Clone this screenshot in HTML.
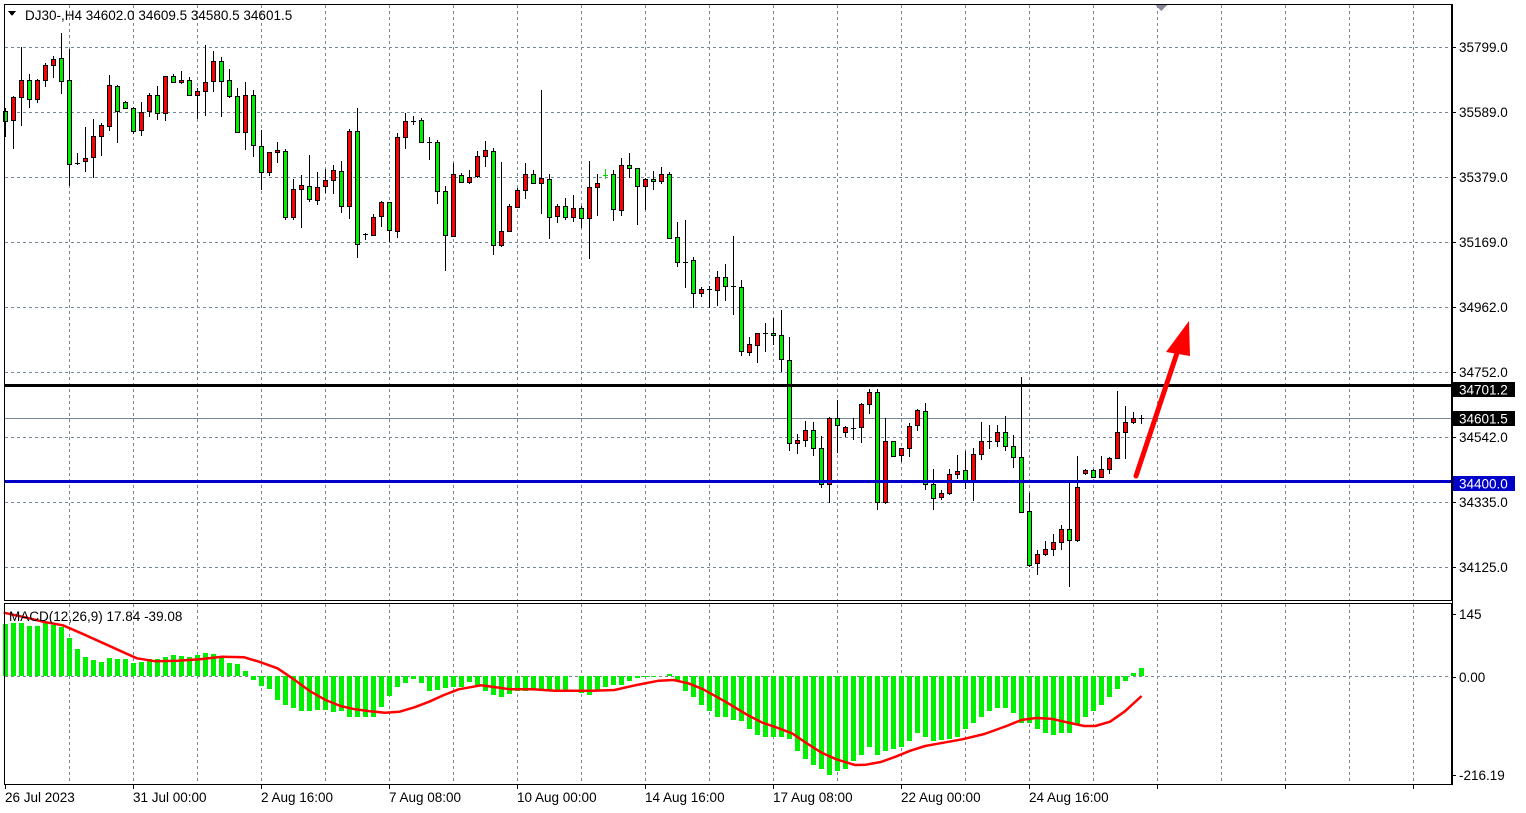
<!DOCTYPE html>
<html><head><meta charset="utf-8"><style>
html,body{margin:0;padding:0;background:#fff;}
svg{display:block;font-family:"Liberation Sans",sans-serif;font-size:13.5px;}
</style></head><body>
<svg id="s" width="1526" height="813" xmlns="http://www.w3.org/2000/svg" shape-rendering="crispEdges"></svg>
<script>
const S=document.getElementById('s');let h='';
h+='<rect x="0" y="0" width="1526" height="813" fill="#fff"/>';
for(let x=69;x<1452;x+=64){h+=`<line x1="${x+0.5}" y1="5" x2="${x+0.5}" y2="600" stroke="#778899" stroke-dasharray="3,3"/>`;h+=`<line x1="${x+0.5}" y1="604" x2="${x+0.5}" y2="784" stroke="#778899" stroke-dasharray="3,3"/>`;}
const lv=[[47,'35799.0'],[112,'35589.0'],[177,'35379.0'],[242,'35169.0'],[307,'34962.0'],[372,'34752.0'],[437,'34542.0'],[502,'34335.0'],[567,'34125.0']];
lv.forEach(([y,t])=>{h+=`<line x1="5" y1="${y+0.5}" x2="1452" y2="${y+0.5}" stroke="#778899" stroke-dasharray="3,3"/>`;h+=`<line x1="1452" y1="${y+0.5}" x2="1456" y2="${y+0.5}" stroke="#000"/>`;h+=`<text x="1459" y="${y+5}">${t}</text>`;});
h+=`<line x1="5" y1="676.5" x2="1452" y2="676.5" stroke="#778899" stroke-dasharray="3,3"/>`;
h+=`<line x1="5" y1="418.5" x2="1452" y2="418.5" stroke="#778899"/>`;
const R=[[20,[
[0,'g',272,303,265,352],[1,'r',232,300,228,388],[2,'r',181,232,80,317],[3,'g',181,238,162,265],[4,'r',181,238,178,250],[5,'r',136,181,128,202],[6,'r',118,136,107,175],[7,'g',115,184,40,223],[8,'g',181,433,87,498],[9,'d',428,428,400,436],[10,'r',415,424,322,457],[11,'r',349,412,297,475],[12,'r',316,349,310,409],[13,'r',196,319,165,334],[14,'g',199,274,195,370],[15,'g',247,265,244,265],[16,'g',265,334,262,343],[17,'r',277,331,247,349],[18,'r',226,274,220,292],[19,'g',226,280,198,301],[20,'r',169,280,169,304],[21,'g',169,187,163,190],[22,'r',181,187,153,193],[23,'g',181,226,172,229],[24,'r',214,226,205,297],[25,'r',187,214,76,289],[26,'r',124,184,94,217],[27,'g',124,184,111,292],[28,'g',181,229,147,235],[29,'g',229,337,205,340],[30,'r',226,337,186,391],[31,'g',226,376,211,412],[32,'g',379,457,331,511],[33,'r',397,457,397,469],[34,'r',391,397,367,430],[35,'g',394,592,388,601],[36,'r',508,592,478,601],[37,'r',496,508,466,625],[38,'g',499,538,406,547],[39,'r',502,541,457,556],[40,'r',481,499,448,520],[41,'r',451,481,436,523],[42,'g',454,559,424,580],[43,'r',334,559,328,598],[44,'g',334,673,265,715],[45,'d',643,643,640,661]]],
[80,[
[46,'r',412,466,403,469],[47,'r',367,409,364,442],[48,'g',367,451,367,487],[49,'r',172,454,160,475],[50,'r',124,172,100,208],[51,'d',122,122,108,136],[52,'g',121,187,115,190],[53,'d',187,187,172,241],[54,'g',187,334,181,373],[55,'g',334,466,319,574],[56,'r',283,469,250,469],[57,'g',286,307,280,310],[58,'r',292,307,271,313],[59,'r',229,289,214,295],[60,'r',211,229,184,262],[61,'g',214,496,205,526],[62,'r',454,496,247,502],[63,'r',379,454,373,454],[64,'r',331,382,325,382],[65,'r',283,331,250,358],[66,'g',283,310,271,313],[67,'r',295,310,30,403],[68,'g',298,412,283,478],[69,'r',379,409,373,430],[70,'g',379,412,355,421],[71,'r',385,412,346,427],[72,'g',385,415,379,445],[73,'r',322,415,244,538],[74,'r',310,322,283,409],[75,'dg',284,284,268,298],[76,'g',283,388,271,424],[77,'r',256,391,235,409],[78,'g',256,265,220,295],[79,'g',265,319,265,436],[80,'r',298,319,295,391],[81,'g',298,304,274,331],[82,'r',283,304,262,313]]],
[220,[
[83,'g',-138,55,-144,58],[84,'g',52,127,6,142],[85,'d',125,125,0,205],[86,'g',121,220,112,265],[87,'r',208,220,202,232],[88,'d',206,206,199,265],[89,'r',172,211,154,259],[90,'g',172,199,133,244],[91,'d',199,199,48,286],[92,'g',202,394,181,407],[93,'r',373,397,352,409],[94,'r',340,376,340,430],[95,'d',339,339,310,397],[96,'g',340,346,294,376],[97,'g',346,418,270,457],[98,'g',421,670,352,694],[99,'r',661,670,643,703],[100,'r',631,661,604,682],[101,'g',631,685,607,709],[102,'g',685,793,649,805],[103,'r',595,793,592,850],[104,'g',595,616,541,700],[105,'r',622,637,619,652],[106,'d',623,623,595,661],[107,'r',553,622,550,670],[108,'r',517,553,508,583],[109,'g',517,847,508,871],[110,'r',664,847,595,853],[111,'g',664,709,664,712]]],
[370,[
[112,'r',235,256,235,275],[113,'r',169,235,160,262],[114,'r',121,166,118,184],[115,'g',124,343,99,361],[116,'g',343,385,298,421],[117,'r',370,382,361,391],[118,'r',313,370,298,376],[119,'r',304,313,256,328],[120,'g',301,331,244,358],[121,'r',253,331,235,394],[122,'r',214,253,156,271],[123,'d',214,214,166,238],[124,'r',187,214,166,232],[125,'g',187,229,139,244],[126,'g',229,262,196,295],[127,'g',262,427,21,430],[128,'g',424,586,370,592],[129,'r',553,580,541,616],[130,'r',538,553,514,559],[131,'r',517,538,493,559],[132,'r',478,517,466,541],[133,'g',478,511,337,652],[134,'r',352,511,259,517],[135,'r',301,310,298,316],[136,'g',301,322,298,325],[137,'r',298,322,259,322],[138,'r',265,298,262,313],[139,'r',187,265,64,268],[140,'r',157,187,109,268],[141,'r',145,157,127,163],[142,'d',145,145,136,163]]]];
R.forEach(([oy,arr])=>arr.forEach(([k,c,t,b,hi,lo])=>{
 const cx=5+8*k; const Y=z=>Math.round(oy+z/3);
 const yt=Y(t),yb=Y(b),yh=Y(hi),yl=Y(lo);
 const wc=c==='dg'?'#00e000':'#000';
 h+=`<line x1="${cx+0.5}" y1="${yh}" x2="${cx+0.5}" y2="${yl}" stroke="${wc}"/>`;
 if(c==='d'||c==='dg'){h+=`<line x1="${cx-2}" y1="${yt+0.5}" x2="${cx+3}" y2="${yt+0.5}" stroke="${wc}"/>`;}
 else{h+=`<rect x="${cx-1.5}" y="${yt+0.5}" width="4" height="${Math.max(1,yb-yt)}" fill="${c==='r'?'#ff0000':'#00ee00'}" stroke="#000"/>`;}
}));
h+=`<rect x="5" y="384" width="1447" height="3" fill="#000"/>`;
h+=`<rect x="5" y="480" width="1447" height="3" fill="#0000c8"/>`;
h+=`<g shape-rendering="auto"><line x1="1136" y1="476" x2="1178" y2="350" stroke="#ff0000" stroke-width="5" stroke-linecap="round"/><polygon points="1189,321 1166,352 1190,356" fill="#ff0000"/></g>`;
h+=`<rect x="1453" y="382" width="62" height="15" fill="#000"/><text x="1459" y="394.5" fill="#fff">34701.2</text>`;
h+=`<rect x="1453" y="411" width="62" height="15" fill="#000"/><text x="1459" y="423.5" fill="#fff">34601.5</text>`;
h+=`<rect x="1453" y="476" width="62" height="15" fill="#0000c8"/><text x="1459" y="488.5" fill="#fff">34400.0</text>`;
const H5=[72,70,68,78,78,70,74,80,114,148,172,180,186,174,177,178,188,186,178,176,170,166,168,170,166,160,162,172,190,192,212,240,258,266,300,315,324,334,334,330,330,336,334,350,352,350,352,320,288,260,248,238,248,272,270,264,262,260,246,256,272,286,290,282,272,272,270,272,272,274,274];
const H6=[280,284,270,262,254,256,244,234,232,230,228,222,240,272,290,316,334,350,352,360,362,386,404,410,410,412,418,454,478,494,506,526,514,506,484,464,442,464,454,448,440,424,400,410,422,420,416,410,388,370,352,334,324,324,338,370,370,388,400,404,400,400,372,350,332,314,292,266,242,220,204];
const bar=(k,z)=>{const cx=5+8*k;const y=Math.round(600+z/3);const y0=676;const a=Math.min(y,y0),b=Math.max(y,y0);if(b-a<1)return;h+=`<rect x="${cx-2}" y="${a}" width="5" height="${b-a}" fill="#00ee00"/>`;};
H5.forEach((z,i)=>bar(i,z));H6.forEach((z,i)=>bar(72+i,z));
const S5=[[10,38],[60,50],[120,66],[170,76],[220,100],[280,130],[330,155],[370,175],[420,184],[480,182],[540,178],[600,170],[660,172],[700,185],[750,205],[790,235],[840,275],[880,300],[920,318],[960,328],[1000,334],[1040,338],[1080,335],[1120,322],[1160,305],[1200,285],[1240,268],[1300,256],[1340,262],[1380,268],[1440,268],[1500,272]];
const S6=[[0,272],[60,272],[120,270],[180,255],[240,242],[280,240],[320,250],[360,268],[420,305],[480,345],[520,368],[560,383],[600,400],[640,430],[680,458],[720,478],[770,495],[800,494],[840,486],[880,470],[920,452],[960,438],[1000,430],[1060,418],[1120,402],[1180,378],[1220,360],[1260,354],[1300,356],[1340,366],[1390,378],[1420,378],[1460,365],[1500,334],[1545,288]];
let pts=S5.map(([x,y])=>`${(x/2.703).toFixed(1)},${(600+y/3).toFixed(1)}`).concat(S6.map(([x,y])=>`${(570+x/2.703).toFixed(1)},${(600+y/3).toFixed(1)}`));
h+=`<polyline points="${pts.join(' ')}" fill="none" stroke="#ff0000" stroke-width="2.5" stroke-linejoin="round" shape-rendering="auto"/>`;
h+=`<rect x="4.5" y="4.5" width="1447" height="596" fill="none" stroke="#000"/>`;
h+=`<rect x="4.5" y="603.5" width="1447" height="181" fill="none" stroke="#000"/>`;
h+=`<line x1="1452.5" y1="4" x2="1452.5" y2="785" stroke="#000"/>`;
[[614,'145'],[677,'0.00'],[775,'-216.19']].forEach(([y,t])=>{h+=`<line x1="1452" y1="${y+0.5}" x2="1456" y2="${y+0.5}" stroke="#000"/>`;h+=`<text x="1459" y="${y+5}">${t}</text>`;});
h+=`<text x="9" y="621">MACD(12,26,9) 17.84 -39.08</text>`;
h+=`<polygon points="8,11 16,11 12,16" fill="#000"/><text x="25" y="20">DJ30-,H4  34602.0 34609.5 34580.5 34601.5</text>`;
h+=`<polygon points="1155,5 1167,5 1161,11" fill="#889"/>`;
[[5,'26 Jul 2023'],[133,'31 Jul 00:00'],[261,'2 Aug 16:00'],[389,'7 Aug 08:00'],[517,'10 Aug 00:00'],[645,'14 Aug 16:00'],[773,'17 Aug 08:00'],[901,'22 Aug 00:00'],[1029,'24 Aug 16:00']].forEach(([x,t])=>{h+=`<line x1="${x+0.5}" y1="785" x2="${x+0.5}" y2="789" stroke="#000"/>`;h+=`<text x="${x}" y="802">${t}</text>`;});
for(let x=1157;x<1452;x+=128){h+=`<line x1="${x+0.5}" y1="785" x2="${x+0.5}" y2="789" stroke="#000"/>`;}
S.innerHTML=h;
</script>
</body></html>
